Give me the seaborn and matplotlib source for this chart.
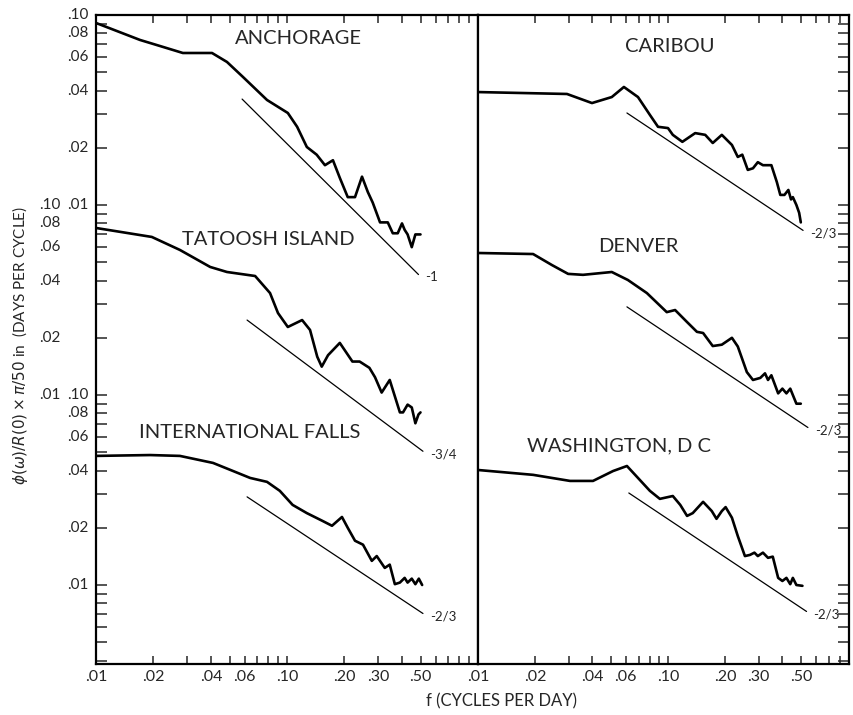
import numpy as np
import pandas as pd
import matplotlib
matplotlib.use("Agg")
import matplotlib.pyplot as plt
import matplotlib.transforms as mtrans
from matplotlib.ticker import FixedLocator, FixedFormatter, NullFormatter, NullLocator, LogLocator
import seaborn as sns

# ---------------- data ----------------
# each curve is plotted on its own stacked decade scale (offset factor)
anch_f = [0.010, 0.017, 0.0208, 0.0285, 0.0405, 0.0485, 0.0588, 0.0786, 0.101, 0.113, 0.127,
          0.143, 0.158, 0.174, 0.189, 0.208, 0.227, 0.247, 0.265, 0.281, 0.307, 0.337, 0.358,
          0.38, 0.40, 0.413, 0.428, 0.45, 0.47, 0.50]
anch_v = [0.0908, 0.0739, 0.0695, 0.0631, 0.0631, 0.0566, 0.0472, 0.0357, 0.0305, 0.0258, 0.0202,
          0.0184, 0.0162, 0.0172, 0.0139, 0.0110, 0.0110, 0.0141, 0.0117, 0.0103, 0.0081, 0.0081,
          0.0071, 0.0071, 0.0080, 0.0074, 0.0070, 0.0060, 0.0070, 0.0070]

tato_f = [0.010, 0.0196, 0.0275, 0.0396, 0.0485, 0.0681, 0.0815, 0.0897, 0.101, 0.120, 0.132,
          0.144, 0.152, 0.164, 0.189, 0.22, 0.24, 0.27, 0.289, 0.313, 0.345, 0.39, 0.405,
          0.428, 0.45, 0.47, 0.488, 0.50]
tato_v = [0.0757, 0.0679, 0.0580, 0.0472, 0.0444, 0.0423, 0.0344, 0.0270, 0.0228, 0.0248, 0.0220,
          0.0159, 0.0141, 0.0162, 0.0188, 0.0150, 0.0150, 0.0139, 0.0124, 0.0103, 0.0120, 0.0081,
          0.0081, 0.0089, 0.0086, 0.0071, 0.0079, 0.0081]

intl_f = [0.010, 0.0192, 0.0275, 0.041, 0.0522, 0.0641, 0.0786, 0.0917, 0.107, 0.127, 0.154,
          0.172, 0.194, 0.208, 0.227, 0.25, 0.278, 0.295, 0.325, 0.345, 0.367, 0.39, 0.413,
          0.428, 0.45, 0.47, 0.49, 0.51]
intl_v = [0.0478, 0.0483, 0.0478, 0.0439, 0.0398, 0.0366, 0.0349, 0.0313, 0.0264, 0.0239, 0.0217,
          0.0205, 0.0228, 0.0200, 0.0171, 0.0163, 0.0134, 0.0142, 0.0123, 0.0128, 0.0101, 0.0103,
          0.0109, 0.0103, 0.0108, 0.0101, 0.0108, 0.0100]

cari_f = [0.010, 0.0294, 0.0398, 0.0506, 0.0586, 0.0695, 0.0803, 0.0886, 0.100, 0.106, 0.119,
          0.139, 0.157, 0.172, 0.192, 0.217, 0.233, 0.246, 0.263, 0.28, 0.297, 0.316, 0.35,
          0.374, 0.39, 0.41, 0.43, 0.444, 0.454, 0.474, 0.49, 0.50]
cari_v = [0.0393, 0.0384, 0.0344, 0.0370, 0.0418, 0.0370, 0.0298, 0.0258, 0.0254, 0.0234, 0.0215,
          0.0239, 0.0234, 0.0212, 0.0234, 0.0207, 0.0179, 0.0184, 0.0153, 0.0156, 0.0168, 0.0162,
          0.0162, 0.0132, 0.0113, 0.0113, 0.0120, 0.0107, 0.0110, 0.0100, 0.0091, 0.0081]

denv_f = [0.010, 0.0195, 0.0245, 0.0298, 0.0357, 0.0506, 0.0615, 0.0774, 0.0985, 0.109, 0.126,
          0.142, 0.153, 0.172, 0.192, 0.217, 0.233, 0.26, 0.28, 0.306, 0.324, 0.336, 0.35,
          0.38, 0.40, 0.42, 0.44, 0.454, 0.474, 0.50]
denv_v = [0.0559, 0.0552, 0.0483, 0.0434, 0.0429, 0.0444, 0.0403, 0.0344, 0.0273, 0.0280, 0.0242,
          0.0215, 0.0212, 0.0181, 0.0184, 0.0200, 0.0180, 0.0132, 0.0120, 0.0123, 0.0130, 0.0120,
          0.0127, 0.0102, 0.0108, 0.0102, 0.0108, 0.0100, 0.0090, 0.0090]

wash_f = [0.010, 0.0195, 0.0305, 0.0403, 0.0514, 0.0608, 0.0695, 0.0803, 0.0906, 0.106, 0.116,
          0.126, 0.135, 0.153, 0.17, 0.18, 0.192, 0.201, 0.217, 0.233, 0.254, 0.27, 0.285,
          0.297, 0.316, 0.336, 0.356, 0.38, 0.40, 0.42, 0.44, 0.454, 0.474, 0.51]
wash_v = [0.0403, 0.0380, 0.0353, 0.0353, 0.0398, 0.0423, 0.0366, 0.0313, 0.0284, 0.0294, 0.0264,
          0.0231, 0.0239, 0.0274, 0.0245, 0.0223, 0.0245, 0.0257, 0.0226, 0.0181, 0.0142, 0.0144,
          0.0148, 0.0142, 0.0148, 0.0139, 0.0141, 0.0109, 0.0105, 0.0109, 0.0101, 0.0109, 0.0100,
          0.0099]

stations = ["ANCHORAGE", "TATOOSH ISLAND", "INTERNATIONAL FALLS",
            "CARIBOU", "DENVER", "WASHINGTON, D C"]
station_panel = [0, 0, 0, 1, 1, 1]
station_offset = [1.0, 0.1, 0.01, 1.0, 0.1, 0.01]
station_f = [anch_f, tato_f, intl_f, cari_f, denv_f, wash_f]
station_v = [anch_v, tato_v, intl_v, cari_v, denv_v, wash_v]

# reference power-law lines
ref_f0 = [0.0582, 0.0618, 0.0618, 0.0608, 0.0608, 0.0622]
ref_f1 = [0.488, 0.515, 0.515, 0.514, 0.545, 0.536]
ref_v0 = [0.0361, 0.0248, 0.0291, 0.0305, 0.0291, 0.0305]
ref_slope = [-1.0, -0.75, -2 / 3, -2 / 3, -2 / 3, -2 / 3]
ref_label = ["-1", "-3/4", "-2/3", "-2/3", "-2/3", "-2/3"]

xtick_vals = [0.01, 0.02, 0.04, 0.06, 0.10, 0.20, 0.30, 0.50]
xtick_labels = [".01", ".02", ".04", ".06", ".10", ".20", ".30", ".50"]
ytick_vals = [0.10, 0.08, 0.06, 0.04, 0.02, 0.01]
ytick_labels = [".10", ".08", ".06", ".04", ".02", ".01"]
set_offsets = [1.0, 0.1, 0.01]

# ---------------- figure ----------------
sns.set_style("ticks")
plt.rcParams["font.family"] = ["Lato", "DejaVu Sans"]
plt.rcParams["mathtext.fontset"] = "dejavusans"

W, H = 854, 715
fig = plt.figure(figsize=(W / 100, H / 100), dpi=100)

def fpos(px, py):
    return px / W, 1 - py / H

ax_l = fig.add_axes([96 / W, 1 - 664 / H, 382 / W, 649 / H])
ax_r = fig.add_axes([478 / W, 1 - 664 / H, 371 / W, 649 / H])
axes = [ax_l, ax_r]

ylo, yhi = 0.1 * 10 ** (-649 / 190), 0.1
for ax in axes:
    ax.set_xscale("log")
    ax.set_yscale("log")
    ax.set_ylim(ylo, yhi)
    for s in ax.spines.values():
        s.set_linewidth(1.6)
        s.set_color("black")
ax_l.set_xlim(0.01, 1.0)
ax_r.set_xlim(0.01, 0.01 * 10 ** (371 / 190))

# curves
for name, p, off, f, v in zip(stations, station_panel, station_offset, station_f, station_v):
    df = pd.DataFrame({"f": f, "v": np.array(v) * off})
    sns.lineplot(data=df, x="f", y="v", ax=axes[p], color="black", lw=1.9,
                 sort=False, estimator=None, legend=False)

# reference lines + slope labels
for p, off, f0, f1, v0, sl, lab in zip(station_panel, station_offset, ref_f0, ref_f1,
                                         ref_v0, ref_slope, ref_label):
    ff = np.array([f0, f1])
    vv = v0 * (ff / f0) ** sl * off
    sns.lineplot(x=ff, y=vv, ax=axes[p], color="black", lw=0.9, sort=False,
                 estimator=None, legend=False)
    axes[p].annotate(lab, xy=(ff[-1], vv[-1]), xytext=(5, -2), textcoords="offset points",
                     ha="left", va="center", fontsize=9.5)

# station names
name_pos = [(298, 38), (268, 240), (250, 433), (670, 47), (638, 247), (619, 446)]
for name, (px, py) in zip(stations, name_pos):
    fig.text(*fpos(px, py), name, ha="center", va="center", fontsize=14.5)

# x ticks
minor_x = [k * 10.0 ** e for e in (-2, -1) for k in range(1, 10)]
for ax in axes:
    ax.xaxis.set_major_locator(FixedLocator(xtick_vals))
    ax.xaxis.set_major_formatter(FixedFormatter(xtick_labels))
    ax.xaxis.set_minor_locator(FixedLocator([m for m in minor_x if m not in xtick_vals]))
    ax.xaxis.set_minor_formatter(NullFormatter())
    ax.tick_params(axis="x", which="both", direction="in", length=6, width=1.1,
                   top=True, bottom=True, labelsize=11.5, pad=4)
    ax.yaxis.set_major_locator(LogLocator(base=10, subs=np.arange(1, 10)))
    ax.yaxis.set_minor_locator(NullLocator())
    ax.yaxis.set_major_formatter(NullFormatter())

ax_l.tick_params(axis="y", which="both", direction="in", length=8, width=1.1,
                 left=True, right=False)
ax_r.tick_params(axis="y", which="both", direction="in", length=8, width=1.1,
                 left=False, right=True, labelleft=False)
for ax in axes:
    ax.set_xlabel("")
    ax.set_ylabel("")

# y tick labels, one set per stacked curve
trans = mtrans.blended_transform_factory(ax_l.transAxes, ax_l.transData)
label_x = [(89 - 96) / 382, (61 - 96) / 382, (89 - 96) / 382]
for off, lx in zip(set_offsets, label_x):
    for val, lab in zip(ytick_vals, ytick_labels):
        ax_l.text(lx, val * off, lab, transform=trans, ha="right", va="center",
                  fontsize=11)

fig.text(*fpos(502, 701), "f (CYCLES PER DAY)", ha="center", va="center", fontsize=12)
fig.text(*fpos(20, 345), r"$\phi(\omega)/R(0)\times\pi/50$ in  (DAYS PER CYCLE)",
         ha="center", va="center", rotation=90, fontsize=11)

fig.savefig("out.png", dpi=100)
